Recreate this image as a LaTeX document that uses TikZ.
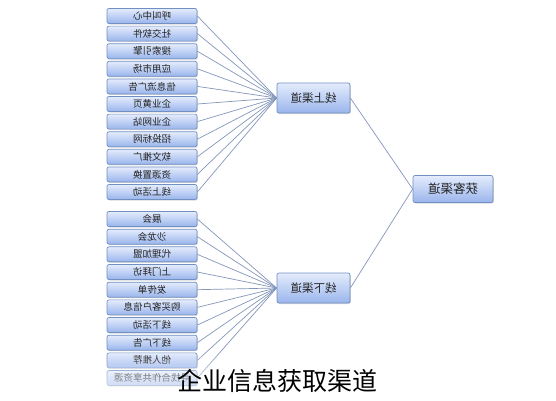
\documentclass[tikz,border=0pt]{standalone}
\usepackage{fontspec}
\setmainfont{Noto Sans CJK SC}
\usetikzlibrary{shadows,fadings}
\definecolor{boxline}{HTML}{7090C4}
\definecolor{boxtop}{HTML}{E4ECFC}
\definecolor{boxbot}{HTML}{9AB5EC}
\definecolor{linkc}{HTML}{8497BA}
\definecolor{txt}{HTML}{222222}
\tikzset{
  chbox/.style={draw=boxline, line width=0.7pt, rounded corners=2pt,
    top color=boxtop, bottom color=boxbot, text=txt, inner sep=0pt,
    drop shadow={opacity=0.3, shadow xshift=0.8pt, shadow yshift=-1pt}},
  leaf/.style={chbox, minimum width=90pt, minimum height=15pt, font=\fontsize{9.5}{9.5}\selectfont},
  mid/.style={chbox, minimum width=73pt, minimum height=30pt, font=\fontsize{11.5}{11.5}\selectfont},
  root/.style={chbox, minimum width=80pt, minimum height=27pt, font=\fontsize{12.5}{12.5}\selectfont},
  link/.style={draw=linkc, line width=0.7pt}
}
\newcommand{\mirr}[1]{\reflectbox{#1}}
\begin{document}
\begin{tikzpicture}[x=1pt,y=-1pt]
\useasboundingbox (0,0) rectangle (556,400);
\fill[white] (0,0) rectangle (556,400);
% root and middle
\node[root] (root) at (453,189) {\mirr{获客渠道}};
\node[mid] (on) at (313.5,98) {\mirr{线上渠道}};
\node[mid] (off) at (313.5,288) {\mirr{线下渠道}};
% upper leaves
\foreach \t [count=\i] in {呼叫中心,社交软件,搜索引擎,应用市场,信息流广告,企业黄页,企业网站,招投标网,软文推广,资源置换,线上活动}{
  \node[leaf] (u\i) at (152,{16+(\i-1)*17.6}) {\mirr{\t}};
}
\foreach \t [count=\i] in {展会,沙龙会,代理加盟,上门拜访,发传单,购买客户信息,线下活动,线下广告,他人推荐,寻找合作共享资源}{
  \node[leaf] (d\i) at (152,{219+(\i-1)*17.67}) {\mirr{\t}};
}
% connectors
\foreach \i in {1,...,11}{ \draw[link] (on.west) -- (u\i.east); }
\foreach \i in {1,...,10}{ \draw[link] (off.west) -- (d\i.east); }
\draw[link] (on.east) -- (root.west);
\draw[link] (off.east) -- (root.west);
% bottom fade
\fill[white, path fading=north, fill opacity=0.8] (0,350) rectangle (556,400);
% caption
\node[font=\fontsize{25}{25}\selectfont, text=black] (cap) at (277,381) {企业信息获取渠道};
\end{tikzpicture}
\end{document}
